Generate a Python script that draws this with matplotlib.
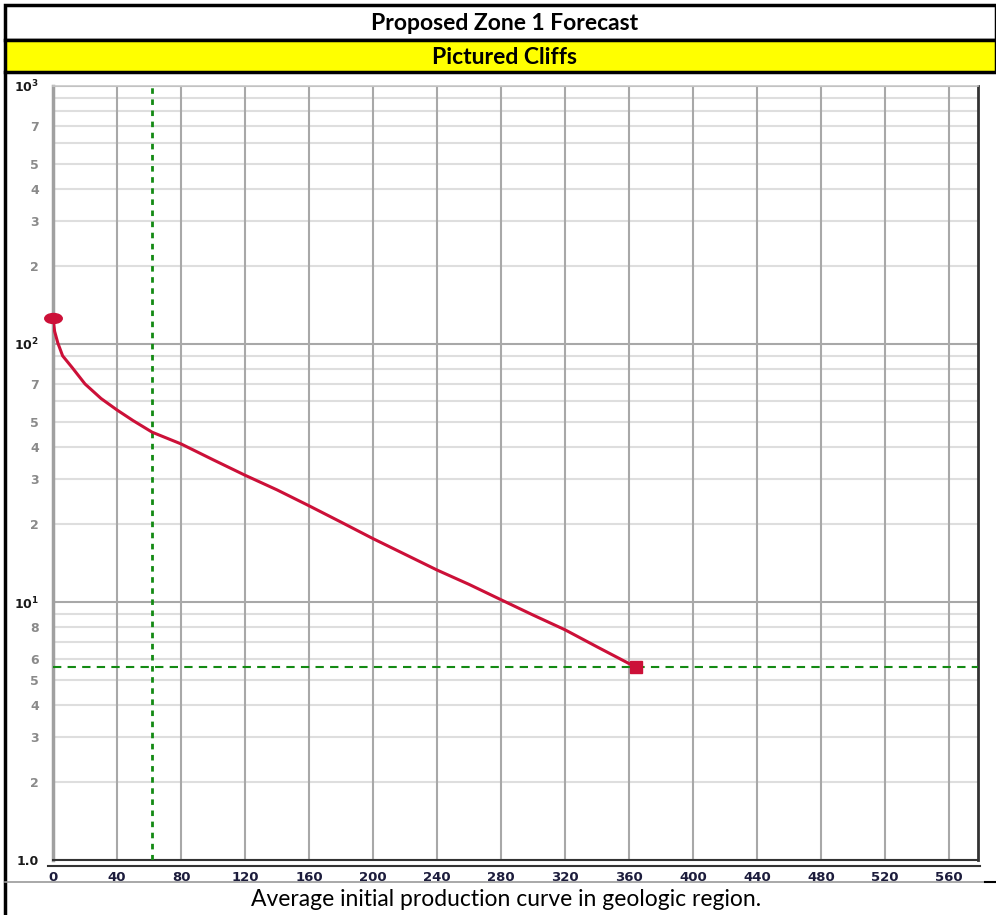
import numpy as np
import matplotlib.pyplot as plt
from matplotlib.lines import Line2D
from matplotlib.markers import MarkerStyle
from matplotlib.patches import Rectangle
from matplotlib.transforms import Affine2D

# ---------------------------------------------------------------
# Proposed Zone 1 forecast - Pictured Cliffs (type curve)
# ---------------------------------------------------------------

TITLE = "Proposed Zone 1 Forecast"
SUBTITLE = "Pictured Cliffs"
CAPTION = "Average initial production curve in geologic region."

# forecast curve
months = [0, 1, 3, 6, 12, 20, 30, 40, 50, 62, 80, 100, 120, 140,
          160, 180, 200, 220, 240, 260, 280, 300, 320, 340, 364]
rate = [126, 112, 101, 90, 81, 70, 61.5, 55.5, 50.5, 45.5, 41, 35.6, 31, 27.2,
        23.6, 20.4, 17.6, 15.3, 13.3, 11.7, 10.2, 8.9, 7.8, 6.7, 5.6]

cursor_x = 62      # vertical green marker
cursor_y = 5.6     # horizontal green marker

x_ticks = list(range(0, 561, 40))
y_ticks = [1000, 700, 500, 400, 300, 200, 100, 70, 50, 40, 30, 20,
           10, 8, 6, 5, 4, 3, 2, 1]
y_labels = [r"$\mathbf{10^3}$", "7", "5", "4", "3", "2", r"$\mathbf{10^2}$",
            "7", "5", "4", "3", "2", r"$\mathbf{10^1}$", "8", "6", "5", "4",
            "3", "2", "1.0"]
decades = [1, 10, 100, 1000]

W, H = 996, 915
fig = plt.figure(figsize=(W / 100, H / 100), dpi=100)
fig.patch.set_facecolor("white")


def fx(px):
    return px / W


def fy(py):
    return 1 - py / H


# header boxes
fig.add_artist(Rectangle((fx(5), fy(40)), fx(991), fy(5) - fy(40), transform=fig.transFigure,
                         facecolor="white", edgecolor="black", lw=2.5))
fig.add_artist(Rectangle((fx(5), fy(72)), fx(991), fy(40) - fy(72), transform=fig.transFigure,
                         facecolor="#ffff00", edgecolor="black", lw=2.5))
fig.text(0.507, fy(23), TITLE, ha="center", va="center", fontsize=16.5,
         fontweight="bold", family="Lato")
fig.text(0.507, fy(57), SUBTITLE, ha="center", va="center", fontsize=16.5,
         fontweight="bold", family="Lato")

# outer frame lines
fig.add_artist(Line2D([fx(5), fx(5)], [fy(72), 0], transform=fig.transFigure,
                      color="black", lw=2.5))
fig.add_artist(Line2D([fx(5), fx(985)], [fy(882), fy(882)], transform=fig.transFigure,
                      color="#999999", lw=1.2))
fig.add_artist(Line2D([fx(985), 1], [fy(882), fy(882)], transform=fig.transFigure,
                      color="black", lw=1.5))
fig.text(0.508, fy(899), CAPTION, ha="center", va="center", fontsize=16.5, family="Lato")

# plot area
ax = fig.add_axes([fx(53), fy(860), fx(978) - fx(53), fy(86) - fy(860)])
ax.set_yscale("log")
ax.set_xlim(0, 578)
ax.set_ylim(1, 1000)

for d in decades:
    ax.axhline(d, color="#a8a8a8", lw=1.5, zorder=1)
    if d < 1000:
        for m in range(2, 10):
            ax.axhline(d * m, color="#dedede", lw=1.5, zorder=0.5)
for xt in x_ticks:
    ax.axvline(xt, color="#a8a8a8", lw=1.5, zorder=1)

ax.axvline(cursor_x, color="#138a13", lw=2, ls=(0, (2, 2)), zorder=3)
ax.axhline(cursor_y, color="#138a13", lw=1.5, ls=(0, (4, 3)), zorder=3)

ax.plot(months, rate, color="#cc1038", lw=2.2, zorder=4, solid_capstyle="round")
start_marker = MarkerStyle("o", transform=Affine2D().scale(1.4, 0.8))
ax.plot(months[0], rate[0], marker=start_marker, ms=9, color="#cc1038", zorder=5,
        clip_on=False)
ax.plot(months[-1], rate[-1], marker="s", ms=8, color="#cc1038", zorder=5)

ax.set_xticks(x_ticks)
ax.set_xticklabels([str(v) for v in x_ticks], fontsize=9.5, fontweight="bold",
                   color="#1c1c3c")
ax.set_yticks(y_ticks)
ax.set_yticklabels(y_labels, fontsize=9, fontweight="bold")
ax.yaxis.set_minor_locator(plt.NullLocator())
for lab, v in zip(ax.get_yticklabels(), y_ticks):
    lab.set_color("#1a1a1a" if v in decades else "#8a8a8a")
ax.tick_params(axis="both", length=0)
ax.tick_params(axis="y", pad=10)
ax.tick_params(axis="x", pad=8)

ax.spines["left"].set_color("#a0a0a0")
ax.spines["left"].set_linewidth(2.5)
ax.spines["top"].set_color("#c8c8c8")
ax.spines["top"].set_linewidth(1.2)
ax.spines["right"].set_color("#333333")
ax.spines["right"].set_linewidth(2)
ax.spines["bottom"].set_color("#333333")
ax.spines["bottom"].set_linewidth(1.5)

# double line under the plot
fig.add_artist(Line2D([fx(48), fx(980)], [fy(866), fy(866)], transform=fig.transFigure,
                      color="#333333", lw=1.5))

fig.savefig("out.png", dpi=100)
